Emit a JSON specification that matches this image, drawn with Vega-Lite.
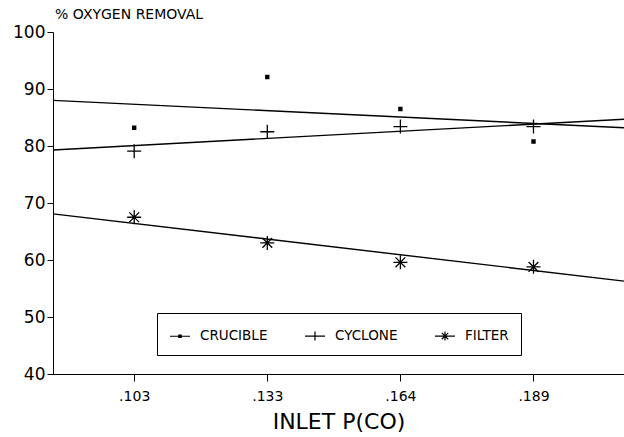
{
  "$schema": "https://vega.github.io/schema/vega-lite/v6.json",
  "autosize": "none",
  "width": 571,
  "height": 342,
  "padding": {"left": 53, "top": 32, "right": 0, "bottom": 63},
  "background": "white",
  "config": {
    "view": {"stroke": null},
    "font": "DejaVu Sans",
    "axis": {"labelColor": "black", "tickColor": "black", "domainColor": "black", "titleColor": "black", "grid": false, "labelFont": "DejaVu Sans", "titleFont": "DejaVu Sans", "titleFontWeight": "normal"}
  },
  "title": {"text": "% OXYGEN REMOVAL", "anchor": "start", "frame": "group", "fontSize": 14, "fontWeight": "normal", "font": "DejaVu Sans", "color": "black", "offset": 1, "dx": 2},
  "datasets": {
    "points": [
      {"series": "CRUCIBLE", "pos": 1, "removal": 83.2},
      {"series": "CRUCIBLE", "pos": 2, "removal": 92.1},
      {"series": "CRUCIBLE", "pos": 3, "removal": 86.5},
      {"series": "CRUCIBLE", "pos": 4, "removal": 80.8},
      {"series": "CYCLONE", "pos": 1, "removal": 79.1},
      {"series": "CYCLONE", "pos": 2, "removal": 82.5},
      {"series": "CYCLONE", "pos": 3, "removal": 83.4},
      {"series": "CYCLONE", "pos": 4, "removal": 83.4},
      {"series": "FILTER", "pos": 1, "removal": 67.5},
      {"series": "FILTER", "pos": 2, "removal": 63.0},
      {"series": "FILTER", "pos": 3, "removal": 59.6},
      {"series": "FILTER", "pos": 4, "removal": 58.8}
    ],
    "fits": [
      {"series": "CRUCIBLE", "pos": 0.39, "removal": 88.0},
      {"series": "CRUCIBLE", "pos": 4.68, "removal": 83.2},
      {"series": "CYCLONE", "pos": 0.39, "removal": 79.3},
      {"series": "CYCLONE", "pos": 4.68, "removal": 84.7},
      {"series": "FILTER", "pos": 0.39, "removal": 68.1},
      {"series": "FILTER", "pos": 4.68, "removal": 56.3}
    ]
  },
  "layer": [
    {
      "mark": {"type": "rule", "color": "black", "strokeWidth": 1.2},
      "encoding": {"y": {"datum": 100, "type": "quantitative", "scale": {"domain": [40, 100]}}}
    },
    {
      "data": {"name": "fits"},
      "mark": {"type": "line", "color": "black", "strokeWidth": 1.4},
      "encoding": {
        "x": {"field": "pos", "type": "quantitative", "scale": {"domain": [0.39, 4.68], "nice": false, "zero": false},
          "axis": {"values": [1, 2, 3, 4], "labelExpr": "datum.value == 1 ? '.103' : datum.value == 2 ? '.133' : datum.value == 3 ? '.164' : '.189'", "labelFontSize": 14, "tickSize": 7, "labelPadding": 8, "title": "INLET P(CO)", "titleFontSize": 22, "titlePadding": 8}},
        "y": {"field": "removal", "type": "quantitative", "scale": {"domain": [40, 100], "nice": false, "zero": false},
          "axis": {"values": [40, 50, 60, 70, 80, 90, 100], "labelFontSize": 17, "tickSize": 6, "labelPadding": 2, "title": null}},
        "detail": {"field": "series"}
      }
    },
    {
      "data": {"name": "points"},
      "mark": {"type": "point", "filled": true, "fill": "black", "stroke": "black", "strokeWidth": 1.3, "size": 196, "opacity": 1},
      "encoding": {
        "x": {"field": "pos", "type": "quantitative"},
        "y": {"field": "removal", "type": "quantitative"},
        "shape": {"field": "series", "type": "nominal", "legend": null,
          "scale": {"domain": ["CRUCIBLE", "CYCLONE", "FILTER"], "range": ["M-0.22,-0.22H0.22V0.22H-0.22Z", "M-1,0H1M0,-1V1", "M-1,0H1M0,-1V1M-0.7,-0.7L0.7,0.7M-0.7,0.7L0.7,-0.7"]}}
      }
    },
    {
      "data": {"name": "points"},
      "mark": {"type": "point", "filled": false, "stroke": "black", "strokeWidth": 1.2, "opacity": 0},
      "encoding": {
        "x": {"field": "pos", "type": "quantitative"},
        "y": {"field": "removal", "type": "quantitative"},
        "shape": {"field": "series", "type": "nominal",
          "scale": {"domain": ["CRUCIBLE", "CYCLONE", "FILTER"], "range": ["M-1,0H1M-0.12,-0.12H0.12V0.12H-0.12Z", "M-1,0H1M0,-0.45V0.45", "M-1,0H1M0,-0.45V0.45M-0.32,-0.32L0.32,0.32M-0.32,0.32L0.32,-0.32"]},
          "legend": {"title": null, "orient": "none", "legendX": 104, "legendY": 281, "direction": "horizontal", "strokeColor": "black", "padding": 12, "columnPadding": 34, "symbolSize": 400, "symbolOpacity": 1, "symbolFillColor": "black", "symbolStrokeColor": "black", "symbolStrokeWidth": 1.2, "labelFontSize": 13.5, "labelFont": "DejaVu Sans", "labelColor": "black", "labelOffset": 9}}
      }
    }
  ],
  "resolve": {"scale": {"shape": "independent"}, "legend": {"shape": "independent"}}
}
